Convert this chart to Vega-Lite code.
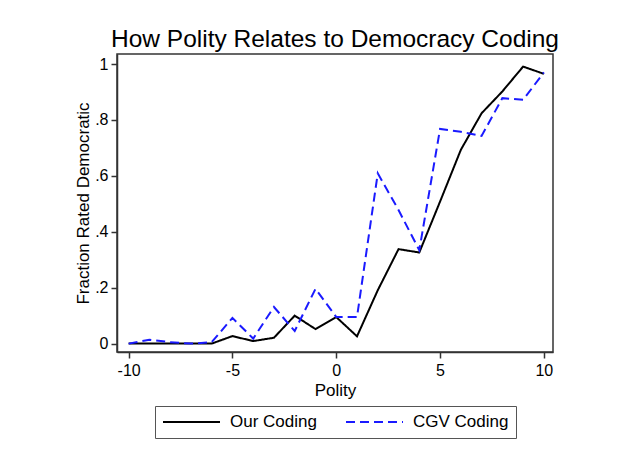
{
  "$schema": "https://vega.github.io/schema/vega-lite/v6.json",
  "width": 436,
  "height": 298,
  "autosize": {"type": "none"},
  "padding": {"left": 117, "top": 54, "right": 67, "bottom": 105},
  "background": "white",
  "title": {
    "text": "How Polity Relates to Democracy Coding",
    "font": "Liberation Sans",
    "fontSize": 24.5,
    "fontWeight": "normal",
    "color": "black",
    "anchor": "middle",
    "offset": 2
  },
  "data": {
    "values": [
      {"polity": -10, "fraction": 0.0, "coding": "Our Coding"},
      {"polity": -9, "fraction": 0.0, "coding": "Our Coding"},
      {"polity": -8, "fraction": 0.0, "coding": "Our Coding"},
      {"polity": -7, "fraction": 0.0, "coding": "Our Coding"},
      {"polity": -6, "fraction": 0.0, "coding": "Our Coding"},
      {"polity": -5, "fraction": 0.027, "coding": "Our Coding"},
      {"polity": -4, "fraction": 0.009, "coding": "Our Coding"},
      {"polity": -3, "fraction": 0.021, "coding": "Our Coding"},
      {"polity": -2, "fraction": 0.100, "coding": "Our Coding"},
      {"polity": -1, "fraction": 0.052, "coding": "Our Coding"},
      {"polity": 0, "fraction": 0.095, "coding": "Our Coding"},
      {"polity": 1, "fraction": 0.026, "coding": "Our Coding"},
      {"polity": 2, "fraction": 0.191, "coding": "Our Coding"},
      {"polity": 3, "fraction": 0.338, "coding": "Our Coding"},
      {"polity": 4, "fraction": 0.326, "coding": "Our Coding"},
      {"polity": 5, "fraction": 0.508, "coding": "Our Coding"},
      {"polity": 6, "fraction": 0.693, "coding": "Our Coding"},
      {"polity": 7, "fraction": 0.824, "coding": "Our Coding"},
      {"polity": 8, "fraction": 0.902, "coding": "Our Coding"},
      {"polity": 9, "fraction": 0.991, "coding": "Our Coding"},
      {"polity": 10, "fraction": 0.965, "coding": "Our Coding"},
      {"polity": -10, "fraction": 0.0, "coding": "CGV Coding"},
      {"polity": -9, "fraction": 0.014, "coding": "CGV Coding"},
      {"polity": -8, "fraction": 0.005, "coding": "CGV Coding"},
      {"polity": -7, "fraction": 0.0, "coding": "CGV Coding"},
      {"polity": -6, "fraction": 0.005, "coding": "CGV Coding"},
      {"polity": -5, "fraction": 0.092, "coding": "CGV Coding"},
      {"polity": -4, "fraction": 0.018, "coding": "CGV Coding"},
      {"polity": -3, "fraction": 0.131, "coding": "CGV Coding"},
      {"polity": -2, "fraction": 0.045, "coding": "CGV Coding"},
      {"polity": -1, "fraction": 0.196, "coding": "CGV Coding"},
      {"polity": 0, "fraction": 0.095, "coding": "CGV Coding"},
      {"polity": 1, "fraction": 0.095, "coding": "CGV Coding"},
      {"polity": 2, "fraction": 0.609, "coding": "CGV Coding"},
      {"polity": 3, "fraction": 0.478, "coding": "CGV Coding"},
      {"polity": 4, "fraction": 0.334, "coding": "CGV Coding"},
      {"polity": 5, "fraction": 0.768, "coding": "CGV Coding"},
      {"polity": 6, "fraction": 0.758, "coding": "CGV Coding"},
      {"polity": 7, "fraction": 0.743, "coding": "CGV Coding"},
      {"polity": 8, "fraction": 0.878, "coding": "CGV Coding"},
      {"polity": 9, "fraction": 0.872, "coding": "CGV Coding"},
      {"polity": 10, "fraction": 0.970, "coding": "CGV Coding"}
    ]
  },
  "mark": {"type": "line", "strokeWidth": 2},
  "encoding": {
    "x": {
      "field": "polity",
      "type": "quantitative",
      "title": "Polity",
      "scale": {"domain": [-10.56, 10.44], "nice": false, "zero": false},
      "axis": {
        "values": [-10, -5, 0, 5, 10],
        "grid": false,
        "labelExpr": "'' + datum.value",
        "labelPadding": 4,
        "titlePadding": 4
      }
    },
    "y": {
      "field": "fraction",
      "type": "quantitative",
      "title": "Fraction Rated Democratic",
      "scale": {"domain": [-0.03, 1.036], "nice": false, "zero": false},
      "axis": {
        "values": [0, 0.2, 0.4, 0.6, 0.8, 1],
        "grid": false,
        "labelExpr": "datum.value == 0 ? '0' : datum.value == 1 ? '1' : '.' + round(datum.value * 10)",
        "titlePadding": 2
      }
    },
    "color": {
      "field": "coding",
      "type": "nominal",
      "sort": ["Our Coding", "CGV Coding"],
      "scale": {"domain": ["Our Coding", "CGV Coding"], "range": ["black", "#1a1aff"]},
      "legend": {
        "title": null,
        "orient": "none",
        "legendX": 38,
        "legendY": 352,
        "direction": "horizontal",
        "columns": 2,
        "symbolType": "stroke",
        "symbolSize": 3249,
        "symbolStrokeWidth": 2,
        "clipHeight": 18,
        "labelOffset": 9,
        "columnPadding": 28,
        "padding": 7,
        "strokeColor": "#555555",
        "labelFont": "Liberation Sans",
        "labelFontSize": 17,
        "labelColor": "black"
      }
    },
    "strokeDash": {
      "field": "coding",
      "type": "nominal",
      "sort": ["Our Coding", "CGV Coding"],
      "scale": {"domain": ["Our Coding", "CGV Coding"], "range": [[1, 0], [9, 5]]},
      "legend": {
        "title": null,
        "orient": "none",
        "legendX": 38,
        "legendY": 352,
        "direction": "horizontal",
        "columns": 2,
        "symbolType": "stroke",
        "symbolSize": 3249,
        "symbolStrokeWidth": 2,
        "clipHeight": 18,
        "labelOffset": 9,
        "columnPadding": 28,
        "padding": 7,
        "strokeColor": "#555555",
        "labelFont": "Liberation Sans",
        "labelFontSize": 17,
        "labelColor": "black"
      }
    }
  },
  "config": {
    "view": {"stroke": "#333333", "strokeWidth": 1.5},
    "axis": {
      "domainColor": "#333333",
      "domainWidth": 1.5,
      "tickColor": "#333333",
      "tickWidth": 1.5,
      "tickSize": 6,
      "labelFont": "Liberation Sans",
      "labelFontSize": 16,
      "labelColor": "black",
      "labelPadding": 3,
      "titleFont": "Liberation Sans",
      "titleFontSize": 17,
      "titleFontWeight": "normal",
      "titleColor": "black"
    },
    "axisY": {"labelAngle": 0}
  }
}
